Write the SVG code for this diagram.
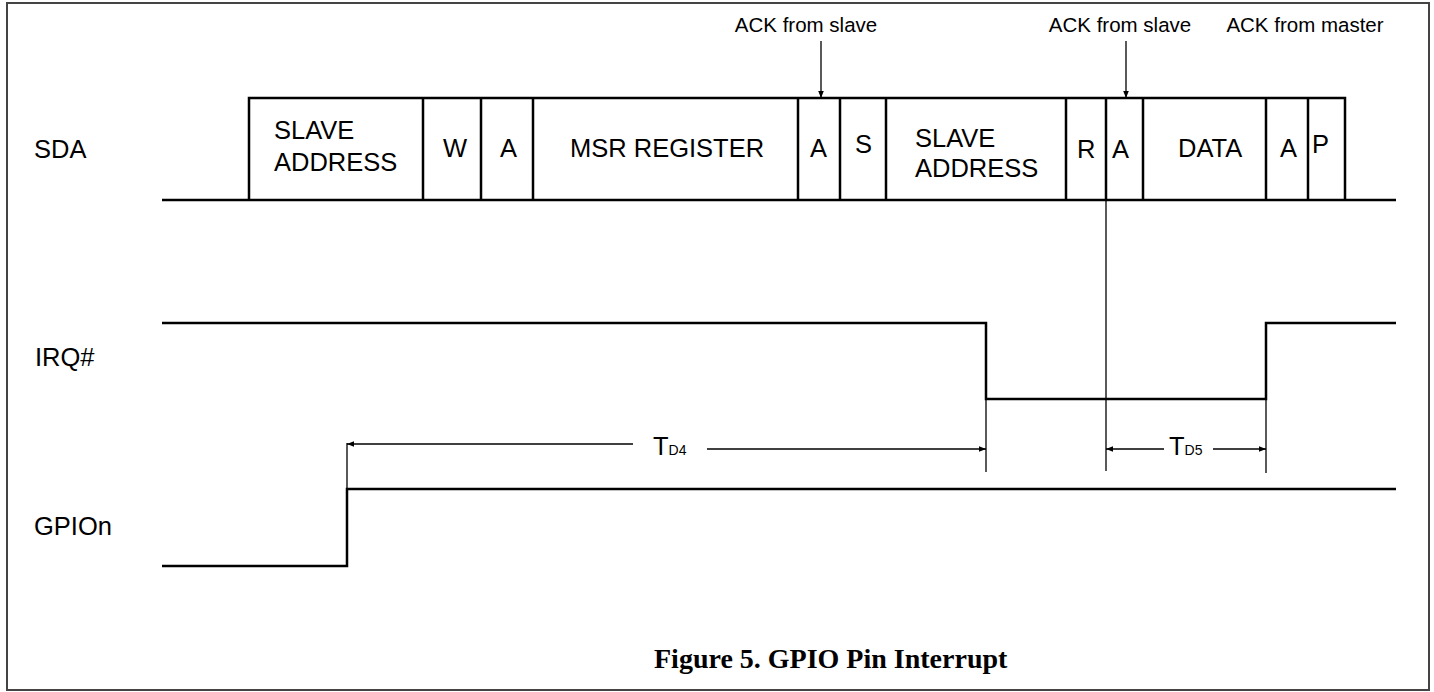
<svg xmlns="http://www.w3.org/2000/svg" width="1434" height="692" viewBox="0 0 1434 692">
<style>
  .sig{fill:none;stroke:#000;stroke-width:2.5;stroke-linejoin:miter}
  .thin{fill:none;stroke:#000;stroke-width:1.3}
  .t{font-family:"Liberation Sans",Arial,sans-serif;font-size:25.5px;fill:#000}
  .ack{font-family:"Liberation Sans",Arial,sans-serif;font-size:20.5px;fill:#000;text-anchor:middle}
  .sub{font-size:14px}
  .cap{font-family:"Liberation Serif","Times New Roman",serif;font-weight:bold;font-size:28px;fill:#000}
</style>
<defs>
  <marker id="ah" viewBox="0 0 10 10" refX="10" refY="5" markerWidth="7" markerHeight="7" markerUnits="userSpaceOnUse" orient="auto">
    <path d="M0,1 L10,5 L0,9 z" fill="#000"/>
  </marker>
</defs>
<rect x="7" y="3" width="1422" height="687" fill="#fff" stroke="#444" stroke-width="2"/>

<g id="labels">
  <text class="t" x="34" y="158">SDA</text>
  <text class="t" x="35" y="366">IRQ#</text>
  <text class="t" x="34" y="535">GPIOn</text>
</g>

<g id="sda">
  <path class="sig" d="M162,200 H1396"/>
  <path class="sig" d="M249,200 V98 H1345 V200"/>
  <path class="sig" d="M423,98 V200 M481,98 V200 M533,98 V200 M798,98 V200 M840,98 V200 M886,98 V200 M1066,98 V200 M1106,98 V200 M1143,98 V200 M1266,98 V200 M1308,98 V200"/>
  <g id="f-slave1"><text class="t" x="274" y="139">SLAVE</text><text class="t" x="274" y="171">ADDRESS</text></g>
  <g id="f-w"><text class="t" x="443" y="157">W</text></g>
  <g id="f-a1"><text class="t" x="500" y="157">A</text></g>
  <g id="f-msr"><text class="t" x="570" y="157">MSR REGISTER</text></g>
  <g id="f-a2"><text class="t" x="810" y="157">A</text></g>
  <g id="f-s"><text class="t" x="855" y="153">S</text></g>
  <g id="f-slave2"><text class="t" x="915" y="147">SLAVE</text><text class="t" x="915" y="177">ADDRESS</text></g>
  <g id="f-r"><text class="t" x="1077" y="158">R</text></g>
  <g id="f-a3"><text class="t" x="1112" y="158">A</text></g>
  <g id="f-data"><text class="t" x="1178" y="157">DATA</text></g>
  <g id="f-a4"><text class="t" x="1280" y="157">A</text></g>
  <g id="f-p"><text class="t" x="1312" y="153">P</text></g>
</g>

<g id="irq">
  <path class="sig" d="M162,323 H986 V399 H1266 V323 H1396"/>
</g>

<g id="gpio">
  <path class="sig" d="M162,566 H347 V489 H1396"/>
</g>

<g id="ack-labels">
  <text class="ack" x="806" y="32">ACK from slave</text>
  <text class="ack" x="1120" y="32">ACK from slave</text>
  <text class="ack" x="1305" y="32">ACK from master</text>
</g>

<g id="timing-labels">
  <text class="t" x="653" y="455">T<tspan class="sub">D4</tspan></text>
  <text class="t" x="1169" y="455">T<tspan class="sub">D5</tspan></text>
</g>

<g id="connectors">
  <line class="thin" x1="821" y1="41" x2="821" y2="98" marker-end="url(#ah)"/>
  <line class="thin" x1="1126" y1="41" x2="1126" y2="98" marker-end="url(#ah)"/>
  <line class="thin" x1="1106" y1="200" x2="1106" y2="471"/>
  <line class="thin" x1="347" y1="443" x2="347" y2="489"/>
  <line class="thin" x1="986" y1="399" x2="986" y2="472"/>
  <line class="thin" x1="1266" y1="399" x2="1266" y2="473"/>
  <line class="thin" x1="633" y1="444" x2="347" y2="444" marker-end="url(#ah)"/>
  <line class="thin" x1="707" y1="449" x2="986" y2="449" marker-end="url(#ah)"/>
  <line class="thin" x1="1164" y1="449" x2="1106" y2="449" marker-end="url(#ah)"/>
  <line class="thin" x1="1213" y1="449" x2="1266" y2="449" marker-end="url(#ah)"/>
</g>

<g id="caption">
  <text class="cap" x="654" y="668">Figure 5. GPIO Pin Interrupt</text>
</g>
</svg>
